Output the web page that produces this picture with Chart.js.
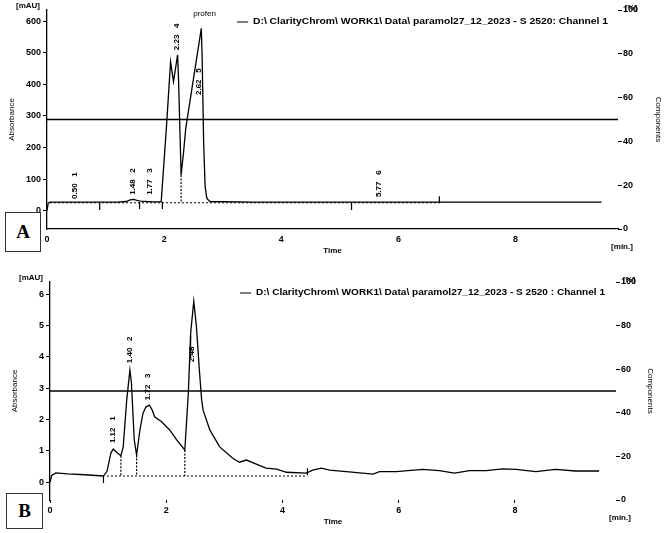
<!DOCTYPE html>
<html>
<head>
<meta charset="utf-8">
<script src="https://cdn.jsdelivr.net/npm/chart.js@4.4.1/dist/chart.umd.min.js"></script>
<style>
  body { margin: 0; background: #fff; width: 665px; height: 533px; position: relative; overflow: hidden; }
  canvas { position: absolute; left: 0; }
  #chartA { top: 0; }
  #chartB { top: 262px; }
  .tag { position: absolute; border: 1px solid #333; background: #fff; color: #000;
         font: bold 19px "Liberation Serif", "Times New Roman", serif; text-align: center; }
</style>
</head>
<body>
<canvas id="chartA" width="665" height="262"></canvas>
<canvas id="chartB" width="665" height="271"></canvas>
<div class="tag" style="left:5px;top:212px;width:34px;height:38px;line-height:38px;">A</div>
<div class="tag" style="left:6px;top:493px;width:35px;height:34px;line-height:34px;">B</div>
<script>
// ---------- panel A ----------
const timeA = [0, 0.02, 0.05, 0.5, 0.9, 1.2, 1.35, 1.42, 1.48, 1.55, 1.6, 1.8, 1.95, 2.04, 2.11, 2.16,
               2.23, 2.245, 2.29, 2.33, 2.37, 2.635, 2.65, 2.675, 2.70, 2.73, 2.78, 3.5, 5.0, 6.7, 8.0, 9.47];
const absA  = [0, 24, 27, 27, 27, 27, 29, 34, 36, 32, 30, 28, 28, 266, 471, 408,
               493, 424, 113, 182, 261, 577, 477, 213, 76, 39, 29, 27, 27, 27, 27, 27];
const baseTimeA = [0.05, 6.75];   // dotted integration baseline
const baseAbsA  = [25, 25];
const dropA = [[2.29, 113, 25]];  // dotted drop lines: time, from, to
const markA = [[0.9, 27, 2], [1.58, 27, 5], [1.97, 28, 5], [5.2, 27, 2], [6.7, 27, 46]]; // peak start/end marks
const peakTextA = ["0.50   1", "1.48   2", "1.77   3", "2.23   4", "2.62   5", "5.77   6"];
const peakTimeA = [0.48, 1.47, 1.75, 2.21, 2.59, 5.67];
const peakAbsA  = [37, 50, 50, 508, 366, 43];
const absTicksA = [0, 100, 200, 300, 400, 500, 600];

// ---------- panel B ----------
const timeB = [0, 0.03, 0.1, 0.3, 0.6, 0.92, 0.98, 1.05, 1.09, 1.15, 1.22, 1.26, 1.32, 1.375, 1.40,
               1.45, 1.49, 1.55, 1.60, 1.65, 1.71, 1.76, 1.80, 1.92, 2.06, 2.18, 2.32, 2.38, 2.42, 2.474,
               2.52, 2.57, 2.61, 2.635, 2.75, 2.92, 3.15, 3.26, 3.38, 3.55, 3.72, 3.9, 4.07, 4.41, 4.52,
               4.67, 4.81, 5.1, 5.56, 5.67, 5.96, 6.41, 6.7, 6.96, 7.22, 7.51, 7.79, 8.02, 8.36, 8.7, 9.04, 9.45];
const absB  = [0, 0.22, 0.3, 0.27, 0.24, 0.2, 0.35, 0.95, 1.06, 0.95, 0.85, 1.13, 2.62, 3.58, 3.2,
               1.35, 0.87, 1.7, 2.2, 2.4, 2.46, 2.3, 2.09, 1.93, 1.67, 1.35, 1.03, 2.83, 4.75, 5.78,
               4.96, 3.58, 2.62, 2.30, 1.67, 1.13, 0.76, 0.64, 0.71, 0.58, 0.45, 0.42, 0.32, 0.29, 0.39,
               0.45, 0.39, 0.34, 0.26, 0.34, 0.34, 0.41, 0.37, 0.29, 0.37, 0.37, 0.43, 0.41, 0.34, 0.41, 0.36, 0.36];
const baseTimeB = [0.98, 4.43];
const baseAbsB  = [0.2, 0.2];
const dropB = [[1.22, 0.85, 0.2], [1.49, 0.87, 0.2], [2.32, 1.03, 0.2]];
const markB = [[0.92, 0.2, -0.02], [4.43, 0.23, 0.45], [2.42, 4.7, 3.95]];
const peakTextB = ["1.12   1", "1.40   2", "1.72   3", "2.48"];
const peakTimeB = [1.08, 1.37, 1.68, 2.44];
const peakAbsB  = [1.25, 3.8, 2.62, 3.83];
const absTicksB = [0, 1, 2, 3, 4, 5, 6];

// shared
const timeTicks = [0, 2, 4, 6, 8];
const compTicks = [0, 20, 40, 60, 80, 100];
const compLine = 50;  // horizontal line on the Components axis
const legendA = "D:\\ ClarityChrom\\ WORK1\\ Data\\ paramol27_12_2023 - S 2520: Channel 1";
const legendB = "D:\\ ClarityChrom\\ WORK1\\ Data\\ paramol27_12_2023 - S 2520 : Channel 1";

const FONT = '"Liberation Sans", Arial, sans-serif';
Chart.defaults.font.family = FONT;
Chart.defaults.font.size = 9;
Chart.defaults.font.weight = 'bold';
Chart.defaults.color = '#000';

function pairs(xs, ys) {
    return xs.map((x, i) => ({ x: x, y: ys[i] }));
}

// vertical pieces, broken by nulls
function segments(list) {
    const pts = [];
    for (const s of list)
        pts.push({ x: s[0], y: s[1] }, { x: s[0], y: s[2] }, { x: s[0], y: null });
    return pts;
}

// texts around the plot + rotated peak labels
const extras = {
    id: 'extras',
    afterDatasetsDraw(chart, args, o) {
        const ctx = chart.ctx;
        const a = chart.chartArea;
        const xs = chart.scales.x, ys = chart.scales.y;
        const midY = (a.top + a.bottom) / 2;
        ctx.save();
        ctx.fillStyle = '#000';
        ctx.strokeStyle = '#000';

        ctx.font = 'bold 8px ' + FONT;
        ctx.textBaseline = 'middle';
        ctx.textAlign = 'left';
        o.peakText.forEach((t, i) => {
            ctx.save();
            ctx.translate(xs.getPixelForValue(o.peakTime[i]), ys.getPixelForValue(o.peakAbs[i]));
            ctx.rotate(-Math.PI / 2);
            ctx.fillText(t, 0, 0);
            ctx.restore();
        });
        if (o.topText) {
            ctx.font = '8px ' + FONT;
            ctx.textAlign = 'center';
            ctx.fillText(o.topText[0], xs.getPixelForValue(o.topText[1]), ys.getPixelForValue(o.topText[2]));
        }

        // legend - stretched to the width it has in the original
        const ly = a.top + o.legendDy;
        ctx.lineWidth = 1;
        ctx.beginPath();
        ctx.moveTo(a.left + 190, ly);
        ctx.lineTo(a.left + 201, ly);
        ctx.stroke();
        ctx.font = 'bold 8.6px ' + FONT;
        ctx.textAlign = 'left';
        const w = ctx.measureText(o.legend).width;
        ctx.save();
        ctx.translate(a.left + 206, ly);
        ctx.scale(o.legendW / w, 1);
        ctx.fillText(o.legend, 0, 0);
        ctx.restore();

        ctx.font = 'bold 8px ' + FONT;
        ctx.textAlign = 'center';
        ctx.fillText('[mAU]', a.left - 19, a.top - 4);
        ctx.fillText('Time', (a.left + a.right) / 2, a.bottom + 22);
        ctx.fillText('[min.]', a.right + 4, a.bottom + 18);
        ctx.fillText('[%]', a.right + 13, a.top - 2);

        ctx.font = '8px ' + FONT;
        ctx.save();
        ctx.translate(a.left - 35, midY);
        ctx.rotate(-Math.PI / 2);
        ctx.fillText('Absorbance', 0, 0);
        ctx.restore();
        ctx.save();
        ctx.translate(a.right + o.compDx, midY);
        ctx.rotate(Math.PI / 2);
        ctx.fillText('Components', 0, 0);
        ctx.restore();
        ctx.restore();
    }
};

function makeChart(id, p) {
    return new Chart(document.getElementById(id), {
        type: 'line',
        data: {
            datasets: [
                { data: pairs(p.time, p.abs), borderColor: '#000', borderWidth: 1.3 },
                { data: pairs(p.baseTime, p.baseAbs), borderColor: '#000', borderWidth: 1, borderDash: [2, 2] },
                { data: segments(p.drop), borderColor: '#000', borderWidth: 1.2, borderDash: [2, 1.5] },
                { data: segments(p.mark), borderColor: '#000', borderWidth: 1.2 },
                { data: [{ x: 0, y: compLine }, { x: p.xMax, y: compLine }], yAxisID: 'y1',
                  borderColor: '#000', borderWidth: 1.3 }
            ]
        },
        options: {
            responsive: false,
            animation: false,
            spanGaps: false,
            elements: { point: { radius: 0 }, line: { tension: 0 } },
            layout: { padding: { left: 0, right: 0, top: p.top, bottom: 0 } },
            plugins: {
                legend: { display: false },
                tooltip: { enabled: false },
                extras: p.extras
            },
            scales: {
                x: {
                    type: 'linear', min: 0, max: p.xMax,
                    afterFit: s => { s.height = p.xHeight; },
                    afterBuildTicks: s => { s.ticks = timeTicks.map(v => ({ value: v })); },
                    ticks: { autoSkip: false, maxRotation: 0, padding: p.xPad },
                    grid: { drawOnChartArea: false, drawTicks: p.xTicks, tickLength: 3, color: '#000' },
                    border: { display: p.xBorder, color: '#000', width: 1.3 }
                },
                y: {
                    position: 'left', min: p.yMin, max: p.yMax,
                    afterFit: s => { s.width = p.leftW; },
                    afterBuildTicks: s => { s.ticks = p.absTicks.map(v => ({ value: v })); },
                    ticks: { autoSkip: false, padding: 2 },
                    grid: { drawOnChartArea: false, tickLength: 4, color: '#000' },
                    border: { color: '#000', width: 1.3 }
                },
                y1: {
                    position: 'right', min: 0, max: 100,
                    afterFit: s => { s.width = p.rightW; },
                    afterBuildTicks: s => { s.ticks = compTicks.map(v => ({ value: v })); },
                    ticks: { autoSkip: false, padding: 1 },
                    grid: { drawOnChartArea: false, tickLength: 4, color: '#000' },
                    border: { display: false }
                }
            }
        },
        plugins: [extras]
    });
}

makeChart('chartA', {
    time: timeA, abs: absA, baseTime: baseTimeA, baseAbs: baseAbsA, drop: dropA, mark: markA,
    absTicks: absTicksA, yMin: -58, yMax: 635, xMax: 9.75,
    top: 10, xHeight: 33, leftW: 47, rightW: 47, xPad: 5, xTicks: false, xBorder: true,
    extras: { peakText: peakTextA, peakTime: peakTimeA, peakAbs: peakAbsA,
              topText: ['profen', 2.69, 622], legend: legendA, legendW: 355, legendDy: 12, compDx: 40 }
});

makeChart('chartB', {
    time: timeB, abs: absB, baseTime: baseTimeB, baseAbs: baseAbsB, drop: dropB, mark: markB,
    absTicks: absTicksB, yMin: -0.565, yMax: 6.39, xMax: 9.74,
    top: 20, xHeight: 33, leftW: 50, rightW: 49, xPad: 2, xTicks: true, xBorder: false,
    extras: { peakText: peakTextB, peakTime: peakTimeB, peakAbs: peakAbsB,
              topText: null, legend: legendB, legendW: 349, legendDy: 11, compDx: 34 }
});
</script>
</body>
</html>
